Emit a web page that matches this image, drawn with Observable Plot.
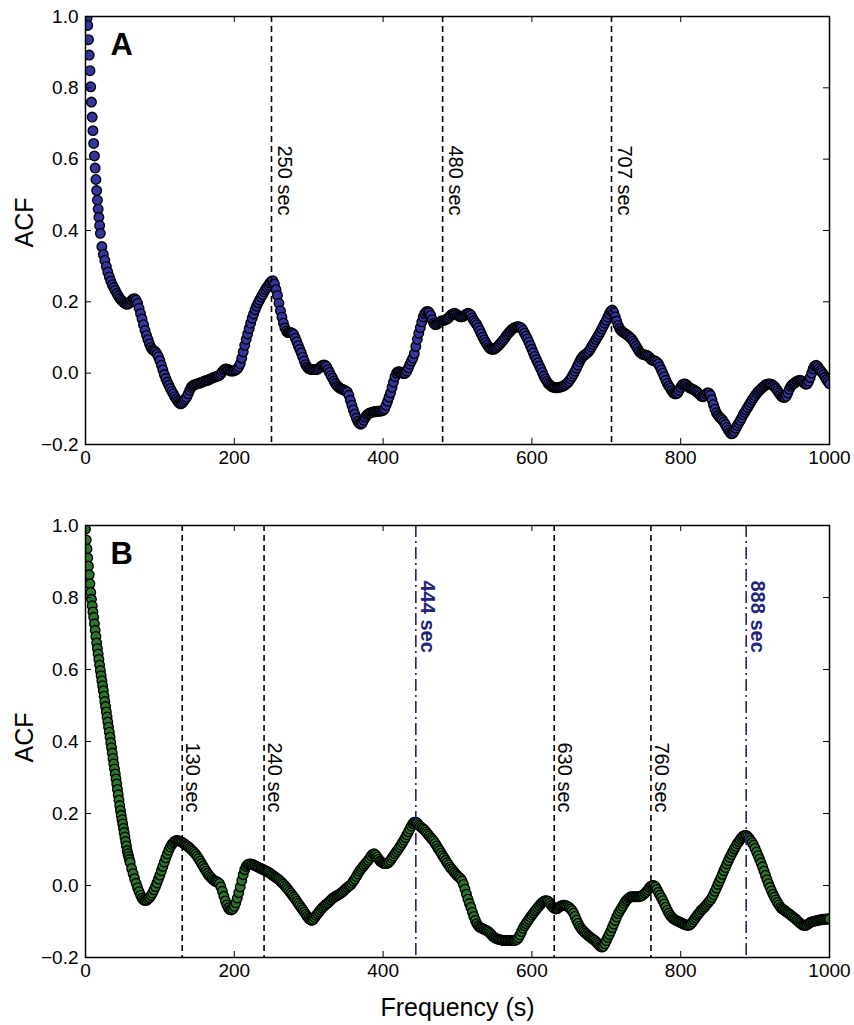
<!DOCTYPE html>
<html><head><meta charset="utf-8">
<script src="https://cdn.jsdelivr.net/npm/d3@7"></script>
<script src="https://cdn.jsdelivr.net/npm/@observablehq/plot@0.6"></script>
<style>
html,body{margin:0;padding:0;background:#fff;}
#chart svg{display:block;}
</style></head><body><div id="chart"></div>
<script>
const xTicks = [0, 200, 400, 600, 800, 1000];
const yTicks = [-0.2, 0, 0.2, 0.4, 0.6, 0.8, 1.0];
const periodsA = [250, 480, 707];
const periodsB = [130, 240, 630, 760];
const harmonicsB = [444, 888];

// Panel A: lags 2..19 s (1 s step), then 20..1000 s (2 s step)
const headLagsA = [2,3,4,5,6,7,8,9,10,11,12,13,14,15,16,17,18,19];
const headAcfA = [0.995,0.975,0.935,0.892,0.848,0.803,0.760,0.718,0.680,0.644,0.609,0.575,0.543,0.512,0.485,0.460,0.437,0.414];
const bodyStartA = 20;
const bodyAcfA = [
0.392,0.355,0.333,0.316,0.299,0.283,0.270,0.258,0.248,0.240,
0.232,0.224,0.217,0.210,0.205,0.201,0.197,0.194,0.193,0.195,
0.199,0.204,0.208,0.209,0.205,0.196,0.182,0.167,0.152,0.136,
0.120,0.106,0.094,0.082,0.072,0.066,0.063,0.060,0.054,0.046,
0.035,0.022,0.009,-0.004,-0.015,-0.025,-0.034,-0.043,-0.051,-0.058,
-0.066,-0.073,-0.079,-0.084,-0.086,-0.084,-0.079,-0.073,-0.067,-0.058,
-0.048,-0.040,-0.035,-0.033,-0.031,-0.030,-0.029,-0.027,-0.026,-0.024,
-0.022,-0.021,-0.020,-0.018,-0.016,-0.014,-0.012,-0.011,-0.009,-0.008,
-0.006,-0.002,0.004,0.009,0.012,0.012,0.010,0.007,0.006,0.006,
0.007,0.009,0.012,0.018,0.027,0.042,0.060,0.078,0.095,0.110,
0.125,0.140,0.154,0.166,0.178,0.188,0.197,0.205,0.213,0.220,
0.228,0.235,0.241,0.247,0.253,0.258,0.259,0.250,0.234,0.218,
0.196,0.175,0.157,0.140,0.127,0.118,0.114,0.114,0.114,0.112,
0.108,0.098,0.088,0.077,0.067,0.057,0.045,0.034,0.024,0.017,
0.013,0.011,0.010,0.010,0.010,0.010,0.011,0.014,0.018,0.021,
0.023,0.022,0.018,0.010,0.002,-0.007,-0.014,-0.022,-0.029,-0.035,
-0.039,-0.042,-0.044,-0.046,-0.048,-0.050,-0.053,-0.062,-0.076,-0.090,
-0.103,-0.115,-0.126,-0.135,-0.141,-0.143,-0.140,-0.132,-0.124,-0.118,
-0.114,-0.112,-0.110,-0.109,-0.108,-0.108,-0.107,-0.107,-0.106,-0.106,
-0.104,-0.100,-0.090,-0.079,-0.067,-0.055,-0.040,-0.025,-0.010,0.000,
0.004,0.004,0.002,0.000,-0.001,0.000,0.006,0.015,0.025,0.034,
0.042,0.055,0.075,0.095,0.112,0.128,0.144,0.158,0.167,0.172,
0.173,0.170,0.162,0.150,0.140,0.136,0.137,0.140,0.143,0.146,
0.147,0.148,0.150,0.152,0.155,0.160,0.164,0.167,0.168,0.166,
0.163,0.160,0.158,0.158,0.160,0.163,0.166,0.168,0.167,0.163,
0.155,0.148,0.142,0.136,0.128,0.119,0.110,0.101,0.093,0.086,
0.079,0.073,0.069,0.067,0.067,0.068,0.071,0.075,0.079,0.084,
0.089,0.094,0.100,0.106,0.111,0.116,0.120,0.124,0.127,0.129,
0.130,0.130,0.129,0.126,0.120,0.112,0.104,0.096,0.087,0.077,
0.067,0.057,0.047,0.038,0.029,0.020,0.011,0.002,-0.008,-0.016,
-0.023,-0.029,-0.033,-0.036,-0.039,-0.040,-0.041,-0.041,-0.040,-0.039,
-0.038,-0.036,-0.034,-0.031,-0.027,-0.022,-0.016,-0.009,-0.002,0.006,
0.014,0.023,0.032,0.040,0.046,0.050,0.053,0.056,0.060,0.066,
0.073,0.080,0.087,0.094,0.101,0.108,0.116,0.124,0.132,0.140,
0.148,0.157,0.166,0.174,0.177,0.170,0.158,0.146,0.134,0.125,
0.119,0.116,0.113,0.110,0.107,0.104,0.100,0.096,0.090,0.083,
0.076,0.069,0.062,0.057,0.054,0.052,0.051,0.050,0.048,0.044,
0.039,0.036,0.035,0.034,0.031,0.026,0.018,0.009,0.000,-0.010,
-0.020,-0.029,-0.036,-0.042,-0.049,-0.055,-0.058,-0.058,-0.055,-0.048,
-0.040,-0.033,-0.030,-0.030,-0.033,-0.038,-0.041,-0.043,-0.045,-0.047,
-0.050,-0.053,-0.057,-0.061,-0.065,-0.066,-0.064,-0.059,-0.055,-0.056,
-0.062,-0.074,-0.088,-0.101,-0.111,-0.118,-0.123,-0.127,-0.131,-0.137,
-0.144,-0.152,-0.160,-0.166,-0.170,-0.169,-0.163,-0.155,-0.147,-0.140,
-0.133,-0.125,-0.117,-0.110,-0.103,-0.096,-0.089,-0.082,-0.075,-0.069,
-0.063,-0.057,-0.052,-0.048,-0.044,-0.040,-0.036,-0.033,-0.031,-0.030,
-0.030,-0.031,-0.034,-0.038,-0.043,-0.049,-0.055,-0.061,-0.066,-0.068,
-0.068,-0.064,-0.055,-0.045,-0.037,-0.032,-0.029,-0.026,-0.023,-0.021,
-0.020,-0.021,-0.024,-0.028,-0.031,-0.030,-0.023,-0.012,0.000,0.012,
0.020,0.022,0.019,0.013,0.007,0.002,-0.004,-0.011,-0.018,-0.024,
-0.030];

// Panel B: lags 0..59 s (1 s step), then 60..1000 s (2 s step)
const headAcfB = [
0.990,0.960,0.935,0.910,0.887,0.863,0.838,0.814,0.795,0.777,
0.760,0.745,0.727,0.709,0.692,0.674,0.658,0.643,0.628,0.612,
0.597,0.583,0.569,0.555,0.541,0.526,0.511,0.497,0.482,0.468,
0.454,0.440,0.426,0.412,0.397,0.383,0.368,0.353,0.338,0.324,
0.310,0.296,0.282,0.267,0.252,0.237,0.222,0.208,0.195,0.183,
0.171,0.159,0.147,0.135,0.122,0.110,0.097,0.088,0.080,0.072];
const bodyStartB = 60;
const bodyAcfB = [
0.064,0.047,0.033,0.019,0.006,-0.006,-0.017,-0.027,-0.035,-0.040,
-0.042,-0.041,-0.038,-0.034,-0.028,-0.021,-0.012,-0.003,0.007,0.018,
0.029,0.041,0.053,0.065,0.077,0.088,0.098,0.107,0.114,0.119,
0.123,0.125,0.125,0.124,0.122,0.120,0.117,0.114,0.111,0.108,
0.104,0.100,0.096,0.092,0.087,0.081,0.075,0.068,0.061,0.054,
0.047,0.040,0.034,0.028,0.023,0.019,0.015,0.012,0.011,0.009,
0.005,-0.004,-0.016,-0.030,-0.043,-0.054,-0.062,-0.067,-0.068,-0.065,
-0.058,-0.048,-0.035,-0.020,-0.004,0.014,0.030,0.044,0.053,0.058,
0.060,0.060,0.059,0.057,0.055,0.053,0.051,0.049,0.047,0.045,
0.043,0.041,0.039,0.037,0.034,0.031,0.028,0.025,0.022,0.019,
0.016,0.012,0.008,0.004,-0.001,-0.006,-0.011,-0.016,-0.021,-0.027,
-0.032,-0.038,-0.044,-0.050,-0.056,-0.062,-0.068,-0.074,-0.080,-0.086,
-0.091,-0.095,-0.097,-0.095,-0.089,-0.083,-0.078,-0.073,-0.068,-0.063,
-0.059,-0.055,-0.051,-0.048,-0.044,-0.040,-0.036,-0.033,-0.030,-0.028,
-0.026,-0.023,-0.020,-0.017,-0.013,-0.009,-0.005,-0.002,0.001,0.006,
0.012,0.018,0.025,0.032,0.039,0.045,0.050,0.055,0.060,0.065,
0.070,0.076,0.082,0.087,0.088,0.085,0.079,0.073,0.068,0.065,
0.062,0.061,0.061,0.062,0.065,0.070,0.076,0.082,0.088,0.094,
0.100,0.106,0.112,0.119,0.126,0.133,0.141,0.149,0.157,0.165,
0.172,0.176,0.176,0.173,0.168,0.164,0.160,0.157,0.153,0.148,
0.143,0.138,0.133,0.128,0.123,0.117,0.110,0.103,0.097,0.090,
0.083,0.077,0.070,0.063,0.057,0.051,0.046,0.041,0.036,0.031,
0.027,0.023,0.019,0.013,0.003,-0.010,-0.024,-0.038,-0.050,-0.061,
-0.074,-0.086,-0.097,-0.106,-0.112,-0.116,-0.118,-0.120,-0.122,-0.124,
-0.126,-0.129,-0.133,-0.138,-0.142,-0.145,-0.147,-0.149,-0.150,-0.151,
-0.152,-0.153,-0.153,-0.153,-0.153,-0.153,-0.153,-0.153,-0.153,-0.152,
-0.150,-0.145,-0.137,-0.128,-0.119,-0.112,-0.106,-0.100,-0.094,-0.088,
-0.082,-0.077,-0.071,-0.066,-0.061,-0.056,-0.051,-0.047,-0.044,-0.042,
-0.042,-0.044,-0.049,-0.055,-0.060,-0.063,-0.065,-0.064,-0.061,-0.058,
-0.056,-0.055,-0.055,-0.056,-0.058,-0.061,-0.065,-0.070,-0.077,-0.086,
-0.096,-0.105,-0.113,-0.119,-0.124,-0.128,-0.132,-0.136,-0.140,-0.143,
-0.146,-0.149,-0.152,-0.156,-0.160,-0.165,-0.169,-0.171,-0.169,-0.162,
-0.153,-0.144,-0.136,-0.127,-0.117,-0.107,-0.097,-0.087,-0.078,-0.071,
-0.064,-0.057,-0.050,-0.044,-0.039,-0.035,-0.032,-0.031,-0.031,-0.031,
-0.031,-0.031,-0.031,-0.030,-0.028,-0.025,-0.021,-0.017,-0.012,-0.006,
-0.002,0.000,0.000,-0.004,-0.011,-0.019,-0.027,-0.034,-0.042,-0.051,
-0.060,-0.069,-0.077,-0.083,-0.088,-0.092,-0.095,-0.097,-0.099,-0.101,
-0.103,-0.105,-0.107,-0.109,-0.110,-0.111,-0.110,-0.106,-0.101,-0.095,
-0.089,-0.083,-0.078,-0.073,-0.068,-0.064,-0.060,-0.055,-0.050,-0.045,
-0.040,-0.033,-0.025,-0.016,-0.007,0.003,0.012,0.021,0.031,0.041,
0.050,0.060,0.069,0.078,0.086,0.094,0.102,0.109,0.116,0.122,
0.128,0.133,0.137,0.139,0.139,0.136,0.131,0.125,0.119,0.112,
0.103,0.093,0.083,0.073,0.063,0.052,0.040,0.028,0.016,0.005,
-0.005,-0.015,-0.024,-0.032,-0.040,-0.047,-0.054,-0.060,-0.064,-0.067,
-0.070,-0.073,-0.076,-0.079,-0.082,-0.086,-0.089,-0.092,-0.096,-0.100,
-0.104,-0.107,-0.110,-0.111,-0.111,-0.109,-0.106,-0.103,-0.101,-0.100,
-0.099,-0.098,-0.097,-0.096,-0.095,-0.095,-0.094,-0.094,-0.093,-0.093,
-0.093];

const dataA = headLagsA.map((lag, i) => ({lag, acf: headAcfA[i]}))
  .concat(bodyAcfA.map((acf, i) => ({lag: bodyStartA + 2 * i, acf})));
const dataB = headAcfB.map((acf, i) => ({lag: i, acf}))
  .concat(bodyAcfB.map((acf, i) => ({lag: bodyStartB + 2 * i, acf})));

const FONT = "'Liberation Sans', Arial, Helvetica, sans-serif";
const NAVY = "#22227a";
const W = 854, ML = 85, MR = 25;

function panel({data, fill, letter, height, marginTop, marginBottom, dashed, dashedDy, dashedDx, dashdot = [], dashdotDy = 0, xLabel = null, acfDy}) {
  const plotH = height - marginTop - marginBottom;
  const plotW = W - ML - MR;
  const marks = [
    Plot.dot(data, {x: "lag", y: "acf", r: 4.8, fill, stroke: "black", strokeWidth: 1.35, clip: true}),
    Plot.ruleX(dashed, {x: d => d, stroke: "black", strokeWidth: 1.6, strokeDasharray: "6,4"}),
    Plot.ruleX(dashdot, {x: d => d, stroke: NAVY, strokeWidth: 1.6, strokeDasharray: "12,4,2,4"}),
    Plot.text(dashed, {x: d => d, frameAnchor: "top", dy: dashedDy, dx: dashedDx, text: d => `${d} sec`, rotate: 90, textAnchor: "start", lineAnchor: "bottom", fontSize: 20, fill: "black"}),
    Plot.text(dashdot, {x: d => d, frameAnchor: "top", dy: dashdotDy, dx: 5, text: d => `${d} sec`, rotate: 90, textAnchor: "start", lineAnchor: "bottom", fontSize: 20, fontWeight: "bold", fill: NAVY}),
    // inward ticks on all four sides
    Plot.tickX(xTicks, {x: d => d, insetTop: plotH - 6, stroke: "black"}),
    Plot.tickX(xTicks, {x: d => d, insetBottom: plotH - 6, stroke: "black"}),
    Plot.tickY(yTicks, {y: d => d, insetRight: plotW - 6, stroke: "black"}),
    Plot.tickY(yTicks, {y: d => d, insetLeft: plotW - 6, stroke: "black"}),
    Plot.axisX(xTicks, {tickSize: 0, tickPadding: 6, tickFormat: d3.format("d"), label: null, fontSize: 19}),
    Plot.axisY(yTicks, {tickSize: 0, tickPadding: 7, tickFormat: d3.format(".1f"), label: null, fontSize: 19}),
    Plot.text([letter], {frameAnchor: "top-left", dx: 25, dy: 38, textAnchor: "start", lineAnchor: "bottom", fontSize: 31, fontWeight: "bold", fill: "black"}),
    Plot.text(["ACF"], {frameAnchor: "left", dx: -53, dy: acfDy, rotate: -90, textAnchor: "middle", lineAnchor: "bottom", fontSize: 25, fill: "black"}),
    Plot.frame({stroke: "black", strokeWidth: 1.5})
  ];
  if (xLabel) marks.push(Plot.text([xLabel], {frameAnchor: "bottom", dy: 58, lineAnchor: "bottom", fontSize: 25, fill: "black"}));
  return Plot.plot({
    width: W, height, marginLeft: ML, marginRight: MR, marginTop, marginBottom,
    style: {fontFamily: FONT, fontSize: "19px", color: "black", background: "white", overflow: "visible"},
    x: {domain: [0, 1000]},
    y: {domain: [-0.2, 1.0]},
    marks
  });
}

const chart = document.getElementById("chart");
chart.append(panel({data: dataA, fill: "#3535a0", letter: "A", height: 490, marginTop: 16, marginBottom: 46,
  dashed: periodsA, dashedDy: 129, dashedDx: 6, acfDy: -8}));
chart.append(panel({data: dataB, fill: "#2e742e", letter: "B", height: 535, marginTop: 35, marginBottom: 68,
  dashed: periodsB, dashedDy: 217, dashedDx: 4, dashdot: harmonicsB, dashdotDy: 55, xLabel: "Frequency (s)", acfDy: -4}));
</script></body></html>
